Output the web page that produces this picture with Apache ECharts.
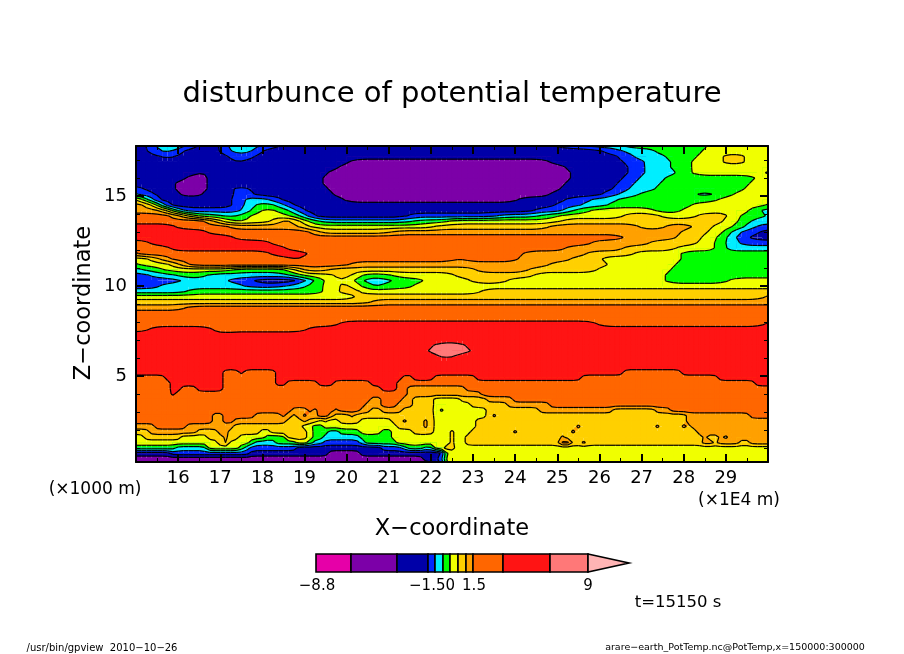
<!DOCTYPE html>
<html><head><meta charset="utf-8">
<style>html,body{margin:0;padding:0;background:#fff}#c{width:904px;height:654px}</style>
<script src="https://cdn.jsdelivr.net/npm/echarts@6/dist/echarts.min.js"></script>
</head><body><div id="c"></div>
<script>
const bandColors = ['#E600A8','#7C00A8','#0000A8','#0028FF','#00EEFF','#00FF00','#F0FF00','#FFD000','#FFA000','#FF6600','#FF1414','#FF7878','#FFB4B4'];
const xTickLabels = [16,17,18,19,20,21,22,23,24,25,26,27,28,29];
const xMinorTicks = [15.5,16.5,17.5,18.5,19.5,20.5,21.5,22.5,23.5,24.5,25.5,26.5,27.5,28.5,29.5];
const zTickLabels = [5,10,15];
const zMinorTicks = [1,2,3,4,6,7,8,9,11,12,13,14,16,17];
const colorbarEdges = [0,35,81,112,119,127,134,142,150,157,187,234,272];
const colorbarTip = 313;
const rowZ = [17.8,17.5,17.2,16.9,16.6,16.3,16.0,15.7,15.4,15.1,14.8,14.5,14.2,13.9,13.6,13.3,13.0,12.7,12.4,12.1,11.8,11.5,11.2,10.9,10.6,10.3,10.0,9.7,9.4,9.1,8.8,8.5,8.2,7.9,7.6,7.3,7.0,6.7,6.4,6.1,5.8,5.5,5.2,4.9,4.6,4.3,4.0,3.7,3.4,3.1,2.8,2.5,2.2,1.9,1.6,1.3,1.0,0.7,0.4,0.1];
// each scan line, top to bottom: band number, x where that band ends (1E4 m), ...
const rowRuns = [
[2,15.3,3,15.47,4,15.67,5,15.9,4,16.15,3,16.4,2,17.05,3,17.17,4,17.3,5,17.6,4,17.9,3,18.4,2,24.97,3,25.72,4,26.55,5,28.52,6,30],
[2,15.3,3,15.5,4,15.95,3,16.06,2,17.1,3,17.17,4,17.8,3,17.95,2,26.0,3,26.6,4,27.3,5,28.4,6,30],
[2,15.5,3,15.95,2,17.2,3,17.85,2,26.47,3,26.87,4,27.58,5,28.25,6,28.95,7,29.45,6,30],
[2,17.3,3,17.6,2,20.1,1,24.85,2,26.59,3,27.0,4,27.72,5,28.19,6,28.96,7,29.43,6,30],
[2,19.8,1,25.21,2,26.67,3,27.06,4,27.73,5,28.14,6,30],
[2,16.38,1,16.65,2,19.6,1,25.33,2,26.69,3,27.08,4,27.75,5,28.13,6,29.9,5,30],
[2,16.14,1,16.71,2,19.47,1,25.3,2,26.59,3,26.98,4,27.58,5,29.74,6,30],
[2,15.97,1,16.68,2,19.44,1,25.17,2,26.47,3,26.87,4,27.46,5,29.55,6,30],
[3,15.2,2,15.98,1,16.65,2,17.29,3,17.72,2,19.57,1,25.01,2,26.27,3,26.71,4,27.26,5,29.39,6,30],
[4,15.1,3,15.4,2,16.1,1,16.55,2,17.29,3,17.76,2,19.69,1,24.85,2,26.0,3,26.43,4,26.95,5,28.3,4,28.7,5,29.15,6,30],
[7,15.05,6,15.18,5,15.29,4,15.4,3,15.49,2,17.34,3,17.6,4,18.23,3,18.43,2,19.93,1,24.03,2,25.21,3,25.84,4,26.39,5,28.76,6,30],
[8,15.18,7,15.4,6,15.5,5,15.6,4,15.65,3,15.7,2,17.34,3,17.56,4,17.84,5,18.35,4,18.59,3,18.74,2,24.97,3,25.53,4,26.16,5,28.21,6,29.9,5,30],
[8,15.6,7,15.75,6,15.8,5,15.9,4,16.0,3,17.5,4,17.68,5,17.92,6,18.35,5,18.63,4,18.78,3,18.98,2,24.42,3,25.13,4,25.37,5,25.76,6,27.34,5,27.9,6,29.0,7,29.2,6,29.5,5,29.85,4,30],
[9,15.75,8,16.0,7,16.15,6,16.4,5,17.0,4,17.45,5,17.72,6,18.74,5,18.9,4,19.02,3,19.22,2,21.4,3,23.6,4,24.5,5,25.0,6,26.55,7,27.4,6,28.3,7,29.05,6,29.35,5,29.88,4,30],
[9,16.65,8,16.8,7,17.0,6,17.25,5,17.6,6,18.3,8,18.75,6,19.0,5,19.3,4,21.6,5,22.45,6,25.1,7,28.88,6,29.27,5,29.59,4,30],
[10,15.9,9,17.2,8,18.9,7,19.1,6,22.0,7,24.82,8,26.95,7,27.57,8,28.17,7,28.68,6,29.15,5,29.39,4,29.7,3,30],
[10,16.65,9,19.14,8,19.35,7,21.0,8,27.98,7,28.52,6,29.0,5,29.07,4,29.3,3,29.85,2,30],
[10,17.36,9,26.6,8,27.8,7,28.4,6,28.8,5,29.1,4,29.2,3,29.55,2,30],
[9,15.25,10,18.2,9,25.8,8,27.2,7,28.3,6,28.76,5,28.88,4,29.35,3,30],
[9,15.85,10,18.55,9,25.2,8,26.6,7,27.8,6,28.75,5,28.95,4,30],
[8,15.05,9,18.2,10,19.0,9,24.2,8,25.64,7,26.75,6,27.9,5,30],
[6,15.25,7,15.5,8,15.75,9,18.68,10,18.9,9,22.6,8,22.8,9,24.0,8,25.25,7,26.1,6,27.95,5,30],
[5,15.02,6,15.85,7,16.1,8,16.2,9,20.1,8,24.82,7,26.2,6,27.8,5,30],
[4,15.15,5,15.7,6,17.25,5,18.6,6,18.75,7,18.9,8,19.6,7,23.0,8,24.3,7,25.96,6,27.65,5,30],
[3,15.35,4,15.9,5,16.7,4,18.7,5,18.95,6,19.7,7,20.2,6,20.3,5,21.0,6,22.55,7,24.4,6,27.6,5,30],
[3,16.1,4,17.2,3,17.75,2,18.85,3,19.0,4,19.15,5,19.4,6,19.75,7,20.1,6,20.2,5,20.35,4,21.0,5,21.8,6,22.9,7,23.85,6,27.6,5,29.05,6,30],
[3,15.6,4,17.5,3,18.6,4,19.0,5,19.4,6,19.75,7,20.2,6,20.35,5,20.6,4,20.8,5,21.55,6,30],
[4,16.2,5,19.4,6,19.8,7,20.25,6,23.2,7,30],
[6,20.2,7,29.9,8,30],
[7,20.5,8,30],
[8,16.2,9,30],
[9,30],
[9,30],
[9,19.78,10,25.9,9,29.9,10,30],
[9,15.35,10,16.75,9,19.0,10,30],
[10,16.9,9,17.02,10,30],
[10,30],
[10,22.0,11,22.85,10,30],
[10,21.9,11,22.9,10,30],
[10,22.2,11,22.6,10,30],
[10,30],
[10,30],
[10,17.1,9,17.4,10,17.6,9,18.25,10,26.5,9,27.9,10,30],
[9,15.67,10,17.05,9,18.3,10,21.25,9,21.6,10,22.0,9,23.1,10,25.6,9,28.76,10,30],
[9,15.75,10,17.05,9,18.35,10,18.6,9,19.25,10,19.65,9,20.55,10,21.17,9,29.7,10,30],
[9,15.85,10,16.1,9,16.42,10,17.05,9,20.8,10,21.15,9,21.45,8,22.8,9,30],
[9,15.87,10,15.98,9,21.45,8,23.2,9,30],
[9,20.55,8,20.8,9,21.3,8,21.5,7,22.0,6,22.7,7,23.3,8,23.95,9,30],
[9,20.45,8,20.85,9,21.2,8,21.5,7,22.0,6,22.96,7,23.87,8,24.8,9,30],
[9,18.65,8,19.0,9,19.2,8,19.3,9,19.65,8,19.85,9,20.35,8,20.6,7,20.75,8,21.3,7,22.0,6,22.15,5,22.25,6,23.25,7,24.55,8,26.25,7,27.35,8,27.7,9,30],
[9,16.8,8,17.0,9,17.8,8,18.4,9,18.55,8,18.67,7,18.87,8,18.96,9,19.1,8,19.35,9,19.55,8,19.7,7,20.0,8,20.2,7,20.5,6,20.6,7,21.0,6,21.12,7,22.0,6,22.25,5,22.33,6,23.28,7,23.4,8,23.5,7,28.05,8,29.55,9,30],
[9,16.77,8,17.1,9,17.3,8,18.55,7,18.95,8,19.1,7,19.3,6,19.4,7,19.55,6,19.85,7,20.35,6,21.1,7,21.35,8,21.45,7,21.75,8,21.88,7,22.0,6,23.0,7,28.05,8,30],
[8,15.43,9,16.2,8,17.25,7,18.95,6,19.2,5,19.45,6,21.15,7,21.75,8,21.88,7,22.0,6,23.0,7,25.4,8,25.5,7,27.35,8,27.45,7,27.93,8,28.03,7,28.15,8,30],
[7,15.27,8,16.4,7,16.9,8,17.17,7,17.95,6,18.15,7,19.1,6,19.2,5,19.6,4,19.8,5,20.3,6,20.8,5,21.1,6,21.5,7,22.0,6,22.4,7,22.5,6,22.97,7,23.92,8,24.02,7,25.32,8,25.42,7,28.35,8,30],
[6,15.15,7,16.0,6,16.7,7,17.0,8,17.15,7,17.4,6,18.0,5,18.5,6,18.55,7,19.05,6,19.15,5,19.45,4,20.3,5,21.1,6,22.4,7,22.55,6,22.8,7,25.12,8,25.2,7,28.4,8,28.6,7,28.75,8,28.9,7,29.0,8,30],
[6,16.9,7,17.05,8,17.15,6,17.65,5,17.75,4,18.35,5,18.75,6,19.1,5,19.2,4,19.4,3,20.3,4,20.4,5,21.2,6,22.4,7,22.6,6,22.85,7,25.05,9,25.25,7,25.6,8,25.72,7,28.4,8,28.5,7,28.62,8,28.72,7,28.85,8,29.3,7,29.5,8,30],
[5,15.9,4,16.65,6,17.45,5,17.55,4,17.65,3,18.85,2,20.85,3,21.3,4,21.45,5,21.85,4,22.05,6,22.35,7,22.55,6,30],
[2,15.85,3,17.7,2,19.5,1,20.3,2,22.33,6,30],
[1,21.85,2,22.15,3,22.33,6,30],
[1,22.0,2,22.3,6,30]
];

const colStep = 0.125, colCount = 121;
const colX = Array.from({length: colCount}, (_, i) => 15 + i * colStep);
const softRowCount = 42;
const softKernel = [1,2,3,4,3,2,1], crispKernel = [1,4,1];
const field = rowRuns.map((runs, rowIdx) => {
  const raw = colX.map(x => {
    for (let k = 0; k < runs.length; k += 2) if (x <= runs[k + 1] + 1e-9) return runs[k] + 0.5;
    return runs[runs.length - 2] + 0.5;
  });
  // contouring kernel: the scan lines are read as steps, the bands between them are smooth
  const kern = rowIdx < softRowCount ? softKernel : crispKernel;
  const half = (kern.length - 1) / 2;
  return raw.map((_, c) => {
    let sum = 0, w = 0;
    for (let d = -half; d <= half; d++) {
      const q = Math.min(colCount - 1, Math.max(0, c + d));
      sum += raw[q] * kern[d + half]; w += kern[d + half];
    }
    return sum / w;
  });
});
const cells = [];
for (let j = 0; j < rowZ.length - 1; j++) for (let i = 0; i < colCount - 1; i++) cells.push([i, j]);

function cellCorners(api) {
  const i = api.value(0), j = api.value(1);
  const idx = [[i, j], [i + 1, j], [i + 1, j + 1], [i, j + 1]];
  return {
    pts: idx.map(p => api.coord([colX[p[0]], rowZ[p[1]]])),
    vals: idx.map(p => field[p[1]][p[0]])
  };
}
function cross(a, b, va, vb, L) {
  const t = (L - va) / (vb - va);
  return [a[0] + (b[0] - a[0]) * t, a[1] + (b[1] - a[1]) * t];
}
function baseItem(params, api) {
  const {pts, vals} = cellCorners(api);
  const lo = Math.floor(Math.min(...vals)), hi = Math.floor(Math.max(...vals));
  const style = lo === hi
    ? {fill: bandColors[lo], stroke: bandColors[lo], lineWidth: 1.4}
    : {fill: bandColors[lo]};
  return {type: 'polygon', shape: {points: pts}, style: style};
}
function upperItem(params, api) {
  const {pts, vals} = cellCorners(api);
  const lo = Math.floor(Math.min(...vals)), hi = Math.floor(Math.max(...vals));
  if (lo === hi) return null;
  const kids = [];
  for (let L = lo + 1; L <= hi; L++) {
    const poly = [];
    for (let k = 0; k < 4; k++) {
      const n = (k + 1) % 4;
      if (vals[k] >= L) poly.push(pts[k]);
      if ((vals[k] >= L) !== (vals[n] >= L)) poly.push(cross(pts[k], pts[n], vals[k], vals[n], L));
    }
    kids.push({type: 'polygon', shape: {points: poly}, style: {fill: bandColors[L], stroke: bandColors[L], lineWidth: 0.5}});
  }
  return {type: 'group', children: kids};
}
function lineItem(params, api) {
  const {pts, vals} = cellCorners(api);
  const lo = Math.floor(Math.min(...vals)), hi = Math.floor(Math.max(...vals));
  if (lo === hi) return null;
  const kids = [];
  for (let L = lo + 1; L <= hi; L++) {
    const cr = [];
    for (let k = 0; k < 4; k++) {
      const n = (k + 1) % 4;
      if ((vals[k] >= L) !== (vals[n] >= L)) cr.push(cross(pts[k], pts[n], vals[k], vals[n], L));
    }
    for (let q = 0; q + 1 < cr.length; q += 2) {
      kids.push({type: 'polyline', shape: {points: [cr[q], cr[q + 1]]}, style: {stroke: '#000', lineWidth: 1.2, fill: null}});
    }
  }
  return {type: 'group', children: kids};
}
const barItems = colorbarEdges.slice(0, -1).map((e, i) => [e, colorbarEdges[i + 1], i]);
function barItem(params, api) {
  const a = api.coord([api.value(0), 1]), b = api.coord([api.value(1), 0]);
  return {type: 'rect', shape: {x: a[0], y: a[1], width: b[0] - a[0], height: b[1] - a[1]},
    style: {fill: bandColors[api.value(2)], stroke: '#000', lineWidth: 1.6}};
}
function tipItem(params, api) {
  const e = colorbarEdges[colorbarEdges.length - 1];
  return {type: 'polygon', shape: {points: [api.coord([e, 1]), api.coord([colorbarTip, 0.5]), api.coord([e, 0])]},
    style: {fill: bandColors[12], stroke: '#000', lineWidth: 1.6}};
}
const F = '"DejaVu Sans"';
function axisBase(extra) {
  return Object.assign({type: 'value', z: 10, scale: true, splitLine: {show: false}, axisLabel: {show: false}}, extra);
}
function xA(pos, values, len, width, line, labels) {
  return axisBase({gridIndex: 0, position: pos, min: 15, max: 30,
    axisLine: {show: line, onZero: false, lineStyle: {color: '#000', width: 2}},
    axisTick: {show: true, inside: true, length: len, customValues: values, lineStyle: {color: '#000', width: width}},
    axisLabel: labels ? {show: true, customValues: xTickLabels, color: '#000', fontFamily: F, fontSize: 18, margin: 7} : {show: false}});
}
function yA(pos, values, len, width, line, labels) {
  return axisBase({gridIndex: 0, position: pos, min: 0.22, max: 17.78,
    axisLine: {show: line, onZero: false, lineStyle: {color: '#000', width: 2}},
    axisTick: {show: true, inside: true, length: len, customValues: values, lineStyle: {color: '#000', width: width}},
    axisLabel: labels ? {show: true, customValues: zTickLabels, color: '#000', fontFamily: F, fontSize: 18, margin: 9} : {show: false}});
}
function label(text, x, y, size, extra) {
  return Object.assign({type: 'text', x: x, y: y, silent: true, style: Object.assign({text: text, fill: '#000', font: size + 'px ' + F, textAlign: 'center', textVerticalAlign: 'middle'}, extra || {})});
}
function cellSeries(name, fn, z) {
  return {name: name, type: 'custom', coordinateSystem: 'cartesian2d', xAxisIndex: 0, yAxisIndex: 0, data: cells, renderItem: fn, silent: true, clip: true, z: z, animation: false, progressive: 0};
}
const chart = echarts.init(document.getElementById('c'), null, {renderer: 'canvas'});
chart.setOption({
  animation: false,
  title: {text: 'disturbunce of potential temperature', left: 447, top: 75, textAlign: 'center',
    textStyle: {fontFamily: F, fontWeight: 'normal', fontSize: 29, color: '#000'}},
  grid: [
    {left: 136, top: 146, width: 632, height: 316},
    {left: 316, top: 554, width: 313, height: 18}
  ],
  xAxis: [
    xA('bottom', xTickLabels, 8, 2, true, true),
    xA('top', xTickLabels, 8, 2, true, false),
    xA('bottom', xMinorTicks, 4, 1, false, false),
    xA('top', xMinorTicks, 4, 1, false, false),
    {type: 'value', gridIndex: 1, min: 0, max: colorbarTip, show: false}
  ],
  yAxis: [
    yA('left', zTickLabels, 8, 2, true, true),
    yA('right', zTickLabels, 8, 2, true, false),
    yA('left', zMinorTicks, 4, 1, false, false),
    yA('right', zMinorTicks, 4, 1, false, false),
    {type: 'value', gridIndex: 1, min: 0, max: 1, show: false}
  ],
  series: [
    cellSeries('bandsBase', baseItem, 3),
    cellSeries('bandsUpper', upperItem, 4),
    cellSeries('contours', lineItem, 5),
    {name: 'colorbar', type: 'custom', coordinateSystem: 'cartesian2d', xAxisIndex: 4, yAxisIndex: 4, data: barItems, renderItem: barItem, silent: true, clip: false, z: 3, animation: false, progressive: 0},
    {name: 'colorbarTip', type: 'custom', coordinateSystem: 'cartesian2d', xAxisIndex: 4, yAxisIndex: 4, data: [[0]], renderItem: tipItem, silent: true, clip: false, z: 3, animation: false, progressive: 0}
  ],
  graphic: [
    label('Z\u2212coordinate', 84, 303, 22.5, {}),
    label('X\u2212coordinate', 452, 529, 22.5),
    label('(\u00d71000 m)', 95, 490, 17),
    label('(\u00d71E4 m)', 739, 501, 17),
    label('\u22128.8', 317, 586, 15),
    label('\u22121.50', 432, 586, 15),
    label('1.5', 474, 586, 15),
    label('9', 588, 586, 15),
    label('t=15150 s', 678, 603, 16.5),
    label('/usr/bin/gpview  2010\u221210\u221226', 102, 648, 10),
    label('arare\u2212earth_PotTemp.nc@PotTemp,x=150000:300000', 735, 648, 9.5)
  ].map((g, i) => i === 0 ? Object.assign(g, {rotation: Math.PI / 2}) : g)
});
</script></body></html>
